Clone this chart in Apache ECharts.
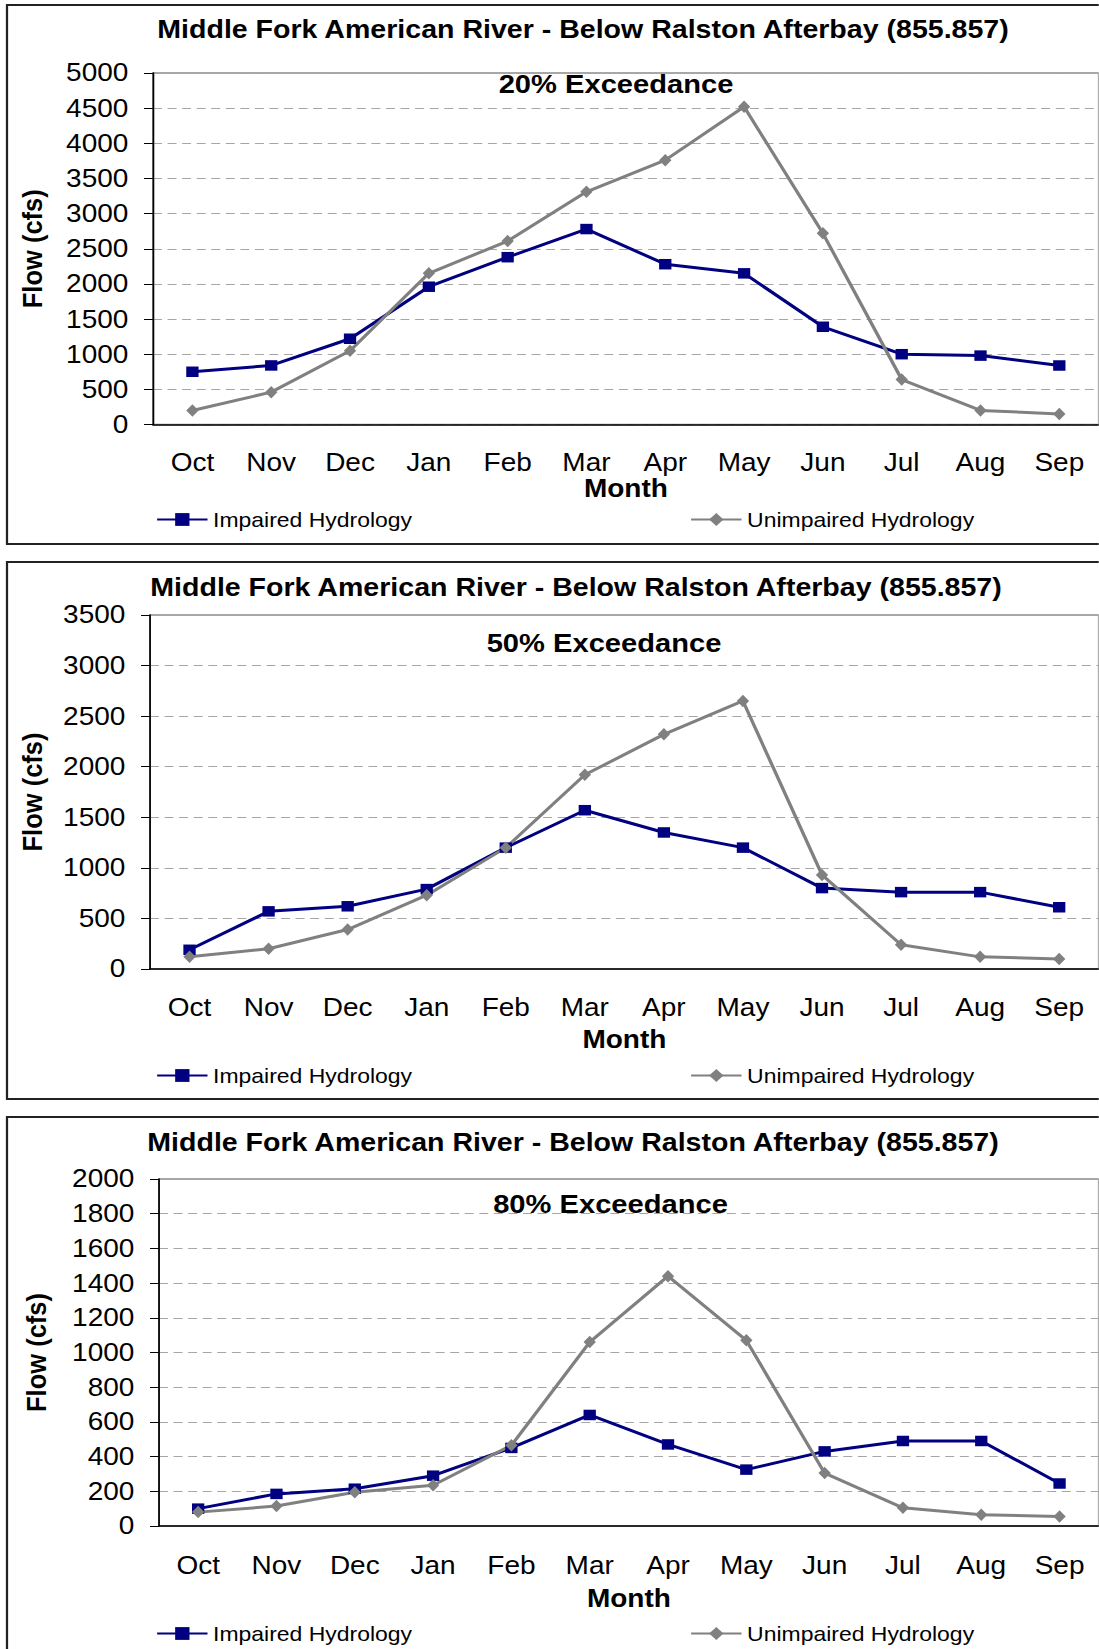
<!DOCTYPE html>
<html>
<head>
<meta charset="utf-8">
<script src="https://cdn.jsdelivr.net/npm/echarts@6/dist/echarts.min.js"></script>
<style>
  html, body { margin: 0; padding: 0; background: #fff; overflow: hidden; }
  /* the source picture is stretched sideways, so the chart is drawn narrower and scaled */
  #main { height: 1649px; transform-origin: 0 0; }
</style>
</head>
<body>
<div id="main"></div>
<script>
const months = ['Oct', 'Nov', 'Dec', 'Jan', 'Feb', 'Mar', 'Apr', 'May', 'Jun', 'Jul', 'Aug', 'Sep'];

const impaired20 = [750, 840, 1220, 1960, 2380, 2780, 2280, 2150, 1390, 1000, 980, 840];
const unimpaired20 = [200, 460, 1050, 2150, 2610, 3310, 3760, 4520, 2720, 640, 200, 150];
const impaired50 = [190, 570, 620, 790, 1200, 1570, 1350, 1200, 800, 760, 760, 610];
const unimpaired50 = [120, 200, 390, 730, 1200, 1920, 2320, 2650, 930, 240, 120, 100];
const impaired80 = [100, 185, 215, 290, 450, 640, 470, 325, 430, 490, 490, 245];
const unimpaired80 = [80, 115, 195, 235, 465, 1060, 1440, 1070, 305, 105, 65, 55];

const yMax = [5000, 3500, 2000];
const yStep = [500, 500, 200];
const subtitles = ['20% Exceedance', '50% Exceedance', '80% Exceedance'];
const chartTitle = 'Middle Fork American River - Below Ralston Afterbay (855.857)';

const SX = 1.12;
const FONT = '"Liberation Sans", Arial, sans-serif';
const X = (v) => v / SX;

// positions measured on the 1099px wide picture
const layout = [
  { box: [5, 544], left: 153, top: 73, bottom: 424.5, titleX: 583, titleY: 29.5, subX: 616, subY: 84, catY: 462, monthY: 488, legendY: 520, nameX: 31.5 },
  { box: [562, 1099], left: 150, top: 615, bottom: 969, titleX: 576, titleY: 587, subX: 604, subY: 643.5, catY: 1007.5, monthY: 1039, legendY: 1076, nameX: 31.5 },
  { box: [1117, 1720], left: 159, top: 1179, bottom: 1526, titleX: 573, titleY: 1142, subX: 610.5, subY: 1204, catY: 1565, monthY: 1598.5, legendY: 1634, nameX: 36 }
];
const seriesData = [
  [impaired20, unimpaired20],
  [impaired50, unimpaired50],
  [impaired80, unimpaired80]
];

const el = document.getElementById('main');
el.style.width = (1099 / SX) + 'px';
el.style.transform = 'scaleX(' + SX + ')';
const myChart = echarts.init(el, null, { renderer: 'svg' });

const titles = [];
const legends = [];
const graphics = [];
const series = [];

layout.forEach((p, i) => {
  titles.push({
    text: chartTitle,
    left: X(p.titleX),
    top: p.titleY - 13,
    textAlign: 'center',
    textVerticalAlign: 'top',
    padding: 0,
    textStyle: { fontFamily: FONT, fontSize: 25.5, fontWeight: 'bold', color: '#000' }
  });
  titles.push({
    text: subtitles[i],
    left: X(p.subX),
    top: p.subY - 13,
    textAlign: 'center',
    textVerticalAlign: 'top',
    padding: 0,
    textStyle: { fontFamily: FONT, fontSize: 26, fontWeight: 'bold', color: '#000' }
  });

  const legendBase = {
    top: p.legendY - 11,
    padding: 0,
    itemWidth: 45,
    itemHeight: 16,
    textStyle: { fontFamily: FONT, fontSize: 20.5, color: '#000' }
  };
  legends.push(Object.assign({ data: ['Impaired Hydrology'], left: X(156) }, legendBase));
  legends.push(Object.assign({ data: ['Unimpaired Hydrology'], left: X(690) }, legendBase));

  graphics.push({
    type: 'rect',
    silent: true,
    shape: { x: X(7), y: p.box[0], width: 1200, height: p.box[1] - p.box[0] },
    style: { fill: null, stroke: '#222', lineWidth: 2 }
  });

  series.push({
    name: 'Impaired Hydrology',
    type: 'line',
    xAxisIndex: i,
    yAxisIndex: i,
    symbol: 'rect',
    symbolSize: [11, 10.5],
    lineStyle: { width: 3, color: '#000080' },
    itemStyle: { color: '#000080' },
    data: seriesData[i][0]
  });
  series.push({
    name: 'Unimpaired Hydrology',
    type: 'line',
    xAxisIndex: i,
    yAxisIndex: i,
    symbol: 'diamond',
    symbolSize: [11, 12.5],
    lineStyle: { width: 3, color: '#808080' },
    itemStyle: { color: '#808080' },
    data: seriesData[i][1]
  });
});

const option = {
  animation: false,
  backgroundColor: '#fff',
  title: titles,
  legend: legends,
  graphic: graphics,
  grid: layout.map((p) => ({
    left: X(p.left),
    right: 0,
    top: p.top,
    height: p.bottom - p.top,
    show: true,
    borderColor: '#8c8c8c',
    borderWidth: 1.5
  })),
  xAxis: layout.map((p, i) => ({
    type: 'category',
    gridIndex: i,
    data: months,
    boundaryGap: true,
    name: 'Month',
    nameLocation: 'middle',
    nameGap: p.monthY - p.bottom - 12,
    nameTextStyle: { fontFamily: FONT, fontSize: 25, fontWeight: 'bold', color: '#000' },
    axisLine: { lineStyle: { color: '#000', width: 1.5 } },
    axisTick: { length: 8, lineStyle: { color: '#000' } },
    axisLabel: { interval: 0, margin: p.catY - p.bottom - 12, fontFamily: FONT, fontSize: 25, color: '#000' }
  })),
  yAxis: layout.map((p, i) => ({
    type: 'value',
    gridIndex: i,
    min: 0,
    max: yMax[i],
    interval: yStep[i],
    name: 'Flow (cfs)',
    nameLocation: 'middle',
    nameGap: X(p.left) - X(p.nameX) - 13,
    nameTextStyle: { fontFamily: FONT, fontSize: 25.5, fontWeight: 'bold', color: '#000' },
    axisLine: { show: true, lineStyle: { color: '#000', width: 1.5 } },
    axisTick: { show: true, length: 8, lineStyle: { color: '#000' } },
    axisLabel: {
      margin: 22,
      fontFamily: FONT,
      fontSize: 25,
      color: '#000',
      formatter: (v) => String(v)
    },
    splitLine: { show: true, lineStyle: { type: [8, 5], color: '#a6a6a6', width: 1 } }
  })),
  series: series
};

myChart.setOption(option);
</script>
</body>
</html>
